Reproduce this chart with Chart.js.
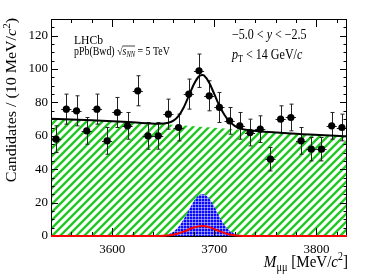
<!DOCTYPE html>
<html>
<head>
<meta charset="utf-8">
<script src="https://cdn.jsdelivr.net/npm/chart.js@4.4.0/dist/chart.umd.min.js"></script>
<style>
  html, body { margin: 0; padding: 0; background: #fff; }
</style>
</head>
<body>
<canvas id="fit" width="366" height="275"></canvas>
<script>
// data points, 10 MeV bins
const binCentres = [3545, 3555, 3565, 3575, 3585, 3595, 3605, 3615, 3625, 3635,
                    3645, 3655, 3665, 3675, 3685, 3695, 3705, 3715, 3725, 3735,
                    3745, 3755, 3765, 3775, 3785, 3795, 3805, 3815, 3825];
const counts = [58, 76, 75, 63, 76, 57, 74, 66, 87, 60,
                60, 73, 65, 85, 99, 84, 77, 69, 66, 62,
                64, 46, 70, 71, 57, 52, 52, 66, 65];
const errors = [8, 9, 9, 8, 9, 8, 9, 8, 9, 8,
                8, 9, 8, 9, 10, 9, 9, 8, 8, 8,
                8, 7, 8, 8, 8, 7, 7, 8, 8];
const binHalf = 5;

// fit components
const bkgMass  = [3540, 3580, 3620, 3660, 3700, 3740, 3780, 3830];
const bkgYield = [70.3, 69.3, 68.1, 66.7, 64.9, 63.0, 61.3, 59.7];

const promptMass  = [3645, 3650, 3655, 3660, 3665, 3670, 3675, 3680, 3685, 3688,
                     3690, 3695, 3700, 3705, 3710, 3715, 3720, 3725, 3735];
const promptYield = [0, 0.4, 1.1, 2.5, 5.5, 10.0, 15.5, 21.0, 24.5, 25.0,
                     24.8, 22.5, 17.5, 11.5, 6.5, 3.2, 1.3, 0.4, 0];

const fromBMass  = [3540, 3640, 3650, 3660, 3670, 3680, 3688, 3695, 3705, 3715, 3725, 3740, 3830];
const fromBYield = [0, 0, 0.15, 0.8, 2.6, 5.1, 6.0, 5.3, 2.9, 0.9, 0.2, 0, 0];

const totalMass  = [3540, 3580, 3620, 3645, 3655, 3660, 3665, 3670, 3675, 3680, 3685, 3688,
                    3690, 3695, 3700, 3705, 3710, 3715, 3720, 3725, 3735, 3780, 3830];
const totalYield = [70.3, 69.3, 68.1, 67.3, 67.9, 69.1, 72.0, 77.0, 83.9, 90.9, 95.7, 96.5,
                    96.1, 91.8, 85.0, 78.0, 72.5, 68.5, 66.0, 64.5, 63.3, 61.3, 59.7];

const xLabels = [3600, 3700, 3800];
const yLabels = [0, 20, 40, 60, 80, 100, 120];

const SERIF = '"Liberation Serif", "Times New Roman", serif';
const SQUASH = 0.86;

function pts(xs, ys) {
    return xs.map((x, i) => ({x: x, y: ys[i]}));
}

function hatchPattern() {
    const c = document.createElement('canvas');
    c.width = c.height = 8;
    const g = c.getContext('2d');
    g.strokeStyle = 'rgb(34,200,34)';
    g.lineWidth = 2.4;
    g.beginPath();
    g.moveTo(-1, 9); g.lineTo(9, -1);
    g.moveTo(-1, 1); g.lineTo(1, -1);
    g.moveTo(7, 9); g.lineTo(9, 7);
    g.stroke();
    return g.createPattern(c, 'repeat');
}

function crossPattern() {
    const c = document.createElement('canvas');
    c.width = c.height = 3;
    const g = c.getContext('2d');
    g.fillStyle = '#0a0aff';
    g.fillRect(0, 0, 3, 3);
    g.fillStyle = 'rgba(255,255,255,0.45)';
    g.fillRect(0, 0, 3, 1);
    g.fillRect(0, 0, 1, 3);
    return g.createPattern(c, 'repeat');
}

// draws a run of text pieces, squashed a little horizontally like the original
function drawRich(ctx, x, y, parts, align) {
    ctx.save();
    ctx.translate(x, y);
    ctx.scale(SQUASH, 1);
    const font = p => (p.italic ? 'italic ' : '') + p.size + 'px ' + SERIF;
    let total = 0;
    parts.forEach(p => { ctx.font = font(p); p.w = ctx.measureText(p.t).width; total += p.w; });
    let cx = align === 'right' ? -total : 0;
    let barStart = null, barEnd = null, barY = 0;
    parts.forEach(p => {
        ctx.font = font(p);
        ctx.fillText(p.t, cx, p.dy || 0);
        if (p.bar) {
            if (barStart === null) barStart = cx;
            barEnd = cx + p.w;
            barY = p.bar;
        }
        cx += p.w;
    });
    if (barStart !== null) {
        ctx.lineWidth = 0.8;
        ctx.beginPath();
        ctx.moveTo(barStart, barY);
        ctx.lineTo(barEnd, barY);
        ctx.stroke();
    }
    ctx.restore();
}

const decorations = {
    id: 'decorations',
    beforeDatasetDraw(chart, args) {
        const ctx = chart.ctx;
        const xs = chart.scales.x, ys = chart.scales.y;
        const a = chart.chartArea;
        if (args.index === 2) {
            // frame and inward ticks
            ctx.save();
            ctx.strokeStyle = '#000';
            ctx.lineWidth = 1;
            ctx.strokeRect(a.left + 0.5, a.top + 0.5, a.right - a.left - 1, a.bottom - a.top);
            ctx.beginPath();
            for (let m = 3560; m < 3830; m += 20) {
                const px = Math.round(xs.getPixelForValue(m)) + 0.5;
                const len = m % 100 === 0 ? 8 : 4;
                ctx.moveTo(px, a.bottom); ctx.lineTo(px, a.bottom - len);
                ctx.moveTo(px, a.top); ctx.lineTo(px, a.top + len);
            }
            for (let v = 5; v < 130; v += 5) {
                const py = Math.round(ys.getPixelForValue(v)) + 0.5;
                const len = v % 20 === 0 ? 7 : 3.5;
                ctx.moveTo(a.left, py); ctx.lineTo(a.left + len, py);
                ctx.moveTo(a.right, py); ctx.lineTo(a.right - len, py);
            }
            ctx.stroke();
            ctx.restore();
        }
        if (args.index === 4) {
            // error bars under the markers
            ctx.save();
            ctx.strokeStyle = '#222';
            ctx.lineWidth = 1;
            ctx.beginPath();
            binCentres.forEach((m, i) => {
                const px = Math.round(xs.getPixelForValue(m)) + 0.5;
                const py = Math.round(ys.getPixelForValue(counts[i])) + 0.5;
                const top = ys.getPixelForValue(counts[i] + errors[i]);
                const bot = ys.getPixelForValue(counts[i] - errors[i]);
                ctx.moveTo(px, top); ctx.lineTo(px, bot);
                ctx.moveTo(px - 2, top); ctx.lineTo(px + 2, top);
                ctx.moveTo(px - 2, bot); ctx.lineTo(px + 2, bot);
                ctx.moveTo(xs.getPixelForValue(m - binHalf), py);
                ctx.lineTo(xs.getPixelForValue(m + binHalf), py);
            });
            ctx.stroke();
            ctx.restore();
        }
    },
    afterDraw(chart) {
        const ctx = chart.ctx;
        const a = chart.chartArea;
        ctx.save();
        ctx.fillStyle = '#000';
        ctx.strokeStyle = '#000';
        ctx.textBaseline = 'alphabetic';

        drawRich(ctx, 74, 43.5, [{t: 'LHCb', size: 13.5}]);
        drawRich(ctx, 74, 55, [
            {t: 'pPb(Bwd) ', size: 11.5},
            {t: '\u221A', size: 11.5},
            {t: 's', size: 11.5, italic: true, bar: -9},
            {t: 'NN', size: 7.5, italic: true, dy: 2, bar: -9},
            {t: ' = 5 TeV', size: 11.5}
        ]);
        drawRich(ctx, 232, 38.5, [
            {t: '\u22125.0 < ', size: 14},
            {t: 'y', size: 14, italic: true},
            {t: ' < \u22122.5', size: 14}
        ]);
        drawRich(ctx, 232, 58.5, [
            {t: 'p', size: 14, italic: true},
            {t: 'T', size: 9.5, dy: 3},
            {t: ' < 14 GeV/', size: 14},
            {t: 'c', size: 14, italic: true}
        ]);

        // x axis title
        drawRich(ctx, a.right + 1, 267, [
            {t: 'M', size: 17.5, italic: true},
            {t: '\u03BC\u03BC', size: 12, dy: 3.5},
            {t: ' [MeV/', size: 17.5},
            {t: 'c', size: 17.5, italic: true},
            {t: '2', size: 11.5, dy: -7},
            {t: ']', size: 17.5}
        ], 'right');

        // y axis title, rotated: full length along the axis, thin across it
        ctx.save();
        ctx.translate(15.5, a.top - 1);
        ctx.rotate(-Math.PI / 2);
        ctx.scale(1 / SQUASH, SQUASH);
        drawRich(ctx, 0, 0, [
            {t: 'Candidates / (10 MeV/', size: 16},
            {t: 'c', size: 16, italic: true},
            {t: '2', size: 11, dy: -6.5},
            {t: ')', size: 16}
        ], 'right');
        ctx.restore();

        ctx.restore();
    }
};

const ctx = document.getElementById('fit').getContext('2d');

new Chart(ctx, {
    type: 'line',
    data: {
        datasets: [
            {
                label: 'data',
                type: 'scatter',
                data: pts(binCentres, counts),
                showLine: false,
                pointRadius: 3.6,
                pointBackgroundColor: '#000',
                pointBorderWidth: 0,
                order: 0
            },
            {
                label: 'total',
                data: pts(totalMass, totalYield),
                borderColor: '#000',
                borderWidth: 2,
                pointRadius: 0,
                fill: false,
                cubicInterpolationMode: 'monotone',
                order: 1
            },
            {
                label: 'from b',
                data: pts(fromBMass, fromBYield),
                borderColor: '#ff0000',
                borderWidth: 2,
                pointRadius: 0,
                fill: false,
                clip: 4,
                cubicInterpolationMode: 'monotone',
                order: 2
            },
            {
                label: 'prompt',
                data: pts(promptMass, promptYield),
                borderWidth: 0,
                pointRadius: 0,
                fill: 'origin',
                backgroundColor: crossPattern(),
                cubicInterpolationMode: 'monotone',
                order: 3
            },
            {
                label: 'background',
                data: pts(bkgMass, bkgYield),
                borderWidth: 0,
                pointRadius: 0,
                fill: 'origin',
                backgroundColor: hatchPattern(),
                cubicInterpolationMode: 'monotone',
                order: 4
            }
        ]
    },
    options: {
        responsive: false,
        animation: false,
        devicePixelRatio: 1,
        layout: { padding: { top: 19, right: 19, left: 0, bottom: 0 } },
        plugins: {
            legend: { display: false },
            tooltip: { enabled: false }
        },
        scales: {
            x: {
                type: 'linear',
                min: 3540,
                max: 3830,
                grid: { display: false, tickLength: 0 },
                border: { display: false },
                afterBuildTicks: s => { s.ticks = xLabels.map(v => ({value: v})); },
                afterFit: s => { s.height = 39; },
                ticks: {
                    padding: 6,
                    color: '#000',
                    font: { family: SERIF, size: 13 },
                    maxRotation: 0,
                    callback: v => String(v)
                }
            },
            y: {
                min: 0,
                max: 130,
                grid: { display: false, tickLength: 0 },
                border: { display: false },
                afterBuildTicks: s => { s.ticks = yLabels.map(v => ({value: v})); },
                afterFit: s => { s.width = 51; },
                ticks: {
                    padding: 3,
                    color: '#000',
                    font: { family: SERIF, size: 13 },
                    callback: v => String(v)
                }
            }
        }
    },
    plugins: [decorations]
});
</script>
</body>
</html>
